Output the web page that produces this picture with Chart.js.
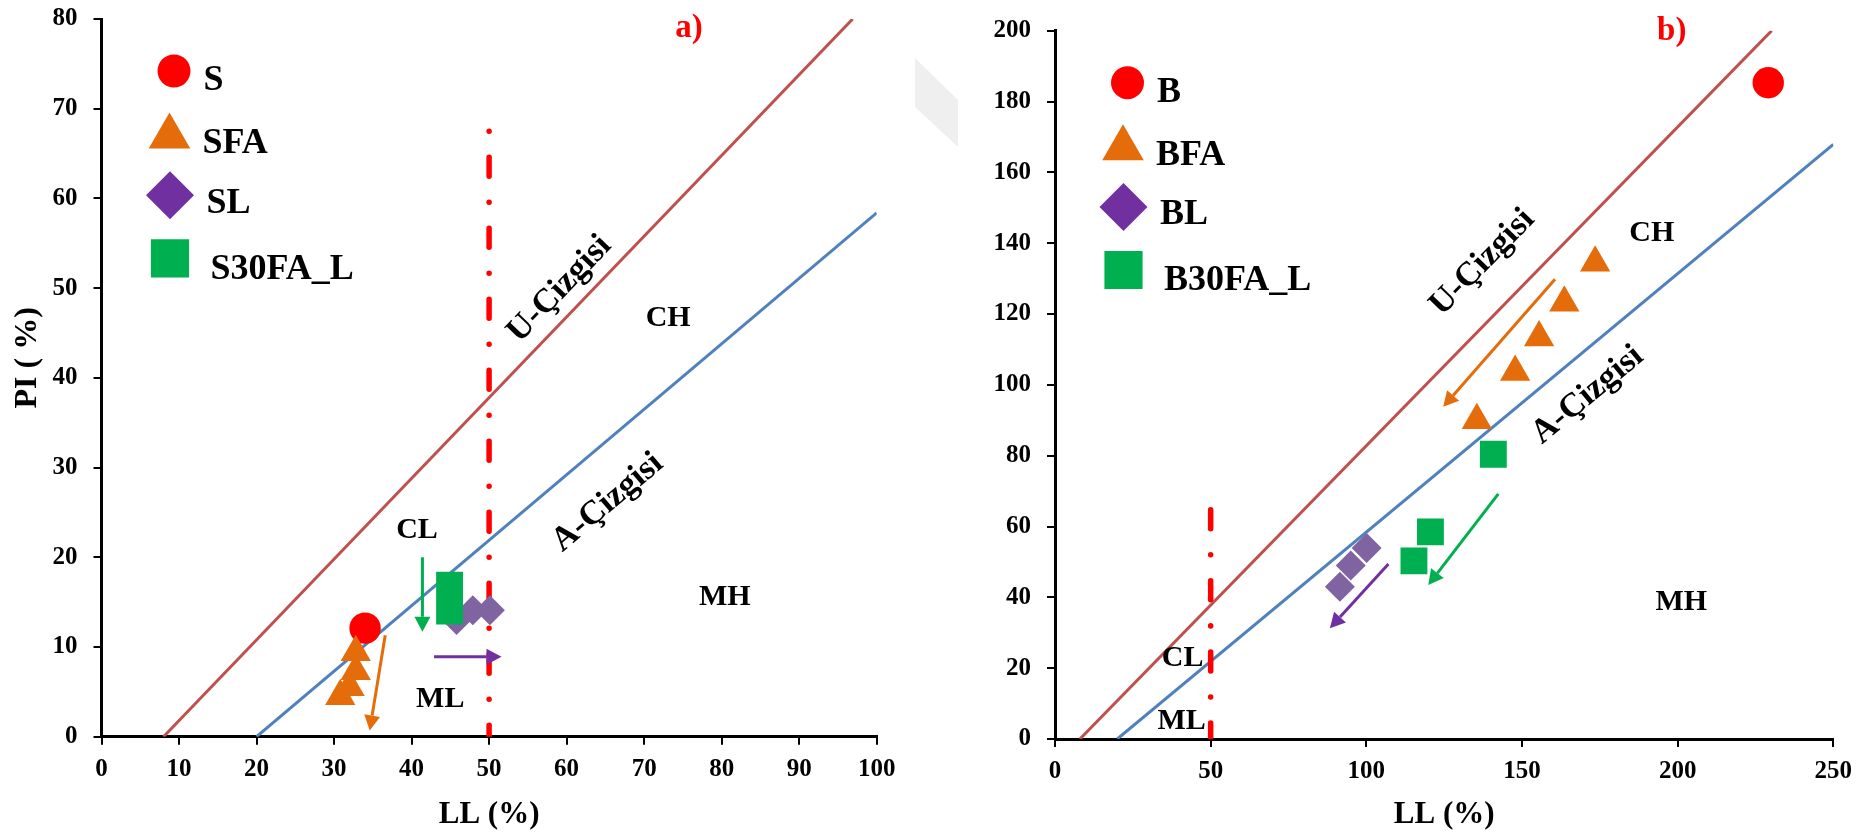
<!DOCTYPE html>
<html>
<head>
<meta charset="utf-8">
<script src="https://cdn.jsdelivr.net/npm/chart.js@4.4.1/dist/chart.umd.min.js"></script>
<style>
    html, body { margin: 0; padding: 0; background: #fff; }
    #page { position: relative; width: 1875px; height: 838px; overflow: hidden; background: #fff; }
    #page canvas { position: absolute; top: 0; }
    #chartA { left: 0; }
    #chartB { left: 990px; }
    .smudge {
        position: absolute; left: 915px; top: 58px; width: 43px; height: 90px;
        background: #efefef;
        clip-path: polygon(0px 0px, 43px 42px, 43px 89px, 0px 49px);
    }
</style>
</head>
<body>
<div id="page">
    <canvas id="chartA" width="990" height="838"></canvas>
    <div class="smudge"></div>
    <canvas id="chartB" width="885" height="838"></canvas>
</div>
<script>
// a) soil S
const sLL = [34.0];
const sPI = [12.1];
const sfaLL = [30.8, 32.0, 32.8, 32.8];
const sfaPI = [4.5, 5.5, 7.3, 9.4];
const slLL = [45.8, 47.9, 50.1];
const slPI = [13.0, 14.1, 14.1];
const s30LL = [44.9, 44.9];
const s30PI = [16.9, 14.0];

// b) soil B
const bLL = [229.1];
const bPI = [185.3];
const bfaLL = [135.5, 147.8, 155.5, 163.6, 173.5];
const bfaPI = [90.0, 103.6, 113.4, 123.2, 134.5];
const blLL = [91.5, 95.0, 100.1];
const blPI = [43.0, 49.0, 53.9];
const b30LL = [115.3, 120.6, 140.8];
const b30PI = [50.3, 58.5, 80.4];

// plasticity chart lines, [LL, PI] end points
const uLineA = [[8, 0], [96.9, 80]];
const aLineA = [[20, 0], [100, 58.4]];
const llLimitA = [[50, 67.5], [50, 0]];
const uLineB = [[8, 0], [230.2, 200]];
const aLineB = [[20, 0], [250, 167.9]];
const llLimitB = [[50, 64.7], [50, 0]];

// arrows [fromLL, fromPI, toLL, toPI] : FA, 30FA_L, L
const arrowsA = [[36.6, 11.3, 34.6, 0.7], [41.4, 20.0, 41.4, 11.7], [42.9, 8.9, 51.6, 8.9]];
const arrowsB = [[160.6, 129.8, 124.7, 93.8], [142.4, 69.2, 119.9, 43.5], [107.1, 49.4, 88.3, 31.3]];

// zone labels [text, LL, PI]
const zonesA = [["CH", 73.1, 46.6], ["MH", 80.4, 15.5], ["CL", 40.7, 23.0], ["ML", 43.7, 4.15]];
const zonesB = [["CH", 191.7, 142.8], ["MH", 201.2, 38.5], ["CL", 41.0, 22.8], ["ML", 40.7, 4.9]];

// line names [text, LL, PI]
const lineNamesA = [["U-Çizgisi", 59.1, 49.9], ["A-Çizgisi", 65.3, 26.1]];
const lineNamesB = [["U-Çizgisi", 137.3, 134.6], ["A-Çizgisi", 171.1, 97.1]];

const tagA = ["a)", 75.8, 79.0];
const tagB = ["b)", 198.1, 199.7];

const FONT = "'Liberation Serif', 'Times New Roman', serif";
const RED = "#ff0000";
const ORANGE = "#e46c0a";
const PURPLE = "#7030a0";
const PURPLE_LIGHT = "#8064a2";
const GREEN = "#00b050";
const U_COLOR = "#c0504d";
const A_COLOR = "#4f81bd";
const ARROW_COLORS = [ORANGE, GREEN, PURPLE];

Chart.defaults.font.family = FONT;

function points(xs, ys) {
    return xs.map((x, i) => ({ x: x, y: ys[i] }));
}

function pairs(arr) {
    return arr.map(p => ({ x: p[0], y: p[1] }));
}

function drawArrow(ctx, x1, y1, x2, y2, color) {
    const ang = Math.atan2(y2 - y1, x2 - x1);
    const head = 15, half = 8;
    const c = Math.cos(ang), s = Math.sin(ang);
    ctx.save();
    ctx.strokeStyle = color;
    ctx.fillStyle = color;
    ctx.lineWidth = 3;
    ctx.beginPath();
    ctx.moveTo(x1, y1);
    ctx.lineTo(x2 - head * c, y2 - head * s);
    ctx.stroke();
    ctx.beginPath();
    ctx.moveTo(x2, y2);
    ctx.lineTo(x2 - head * c + half * s, y2 - head * s - half * c);
    ctx.lineTo(x2 - head * c - half * s, y2 - head * s + half * c);
    ctx.closePath();
    ctx.fill();
    ctx.restore();
}

function drawMarker(ctx, style, r, x, y, color) {
    ctx.save();
    ctx.fillStyle = color;
    if (Chart.helpers && Chart.helpers.drawPoint) {
        Chart.helpers.drawPoint(ctx, { pointStyle: style, radius: r, rotation: 0, borderWidth: 0 }, x, y);
    } else {
        ctx.beginPath();
        ctx.arc(x, y, r, 0, Math.PI * 2);
        ctx.fill();
    }
    ctx.restore();
}

// arrows, text labels and the inside legend
const decorPlugin = {
    id: "decor",
    afterDatasetsDraw(chart, args, opts) {
        const ctx = chart.ctx;
        const xs = chart.scales.x;
        const ys = chart.scales.y;
        const px = v => xs.getPixelForValue(v);
        const py = v => ys.getPixelForValue(v);

        opts.arrows.forEach((a, i) => {
            drawArrow(ctx, px(a[0]), py(a[1]), px(a[2]), py(a[3]), ARROW_COLORS[i]);
        });

        ctx.save();
        ctx.fillStyle = "#000";
        ctx.textAlign = "center";
        ctx.textBaseline = "middle";
        ctx.font = "bold 30px " + FONT;
        opts.zones.forEach(z => ctx.fillText(z[0], px(z[1]), py(z[2])));

        // line names follow the slope of their line
        opts.lineNames.forEach((n, i) => {
            const line = chart.data.datasets[opts.lineDatasets[i]].data;
            const ang = Math.atan2(py(line[1].y) - py(line[0].y), px(line[1].x) - px(line[0].x));
            ctx.save();
            ctx.translate(px(n[1]), py(n[2]));
            ctx.rotate(ang);
            ctx.font = "bold 34px " + FONT;
            ctx.fillText(n[0], 0, 0);
            ctx.restore();
        });

        ctx.fillStyle = RED;
        ctx.font = "bold 33px " + FONT;
        ctx.fillText(opts.tag[0], px(opts.tag[1]), py(opts.tag[2]));
        ctx.restore();

        // legend
        const area = chart.chartArea;
        const mx = [72.5, 68, 68.5, 68.5];
        const my = [52, 117.5, 176.3, 239.3];
        const tx = [102, 101, 105, 109];
        const ty = [71.3, 133.8, 193.5, 259.5];
        ctx.save();
        ctx.font = "bold 36px " + FONT;
        ctx.textAlign = "left";
        ctx.textBaseline = "alphabetic";
        opts.legend.forEach((item, i) => {
            const ds = chart.data.datasets[item.ds];
            drawMarker(ctx, ds.pointStyle, item.r, area.left + mx[i], area.top + my[i], item.color);
            ctx.fillStyle = "#000";
            ctx.fillText(ds.label, area.left + tx[i], area.top + ty[i]);
        });
        ctx.restore();
    }
};

function makeScales(xMax, xStep, yMax, yStep, yWidth, xHeight, showYTitle) {
    const tickFont = { family: FONT, size: 25, weight: "bold" };
    const grid = { drawOnChartArea: false, color: "#000", lineWidth: 2, tickLength: 8 };
    const border = { color: "#000", width: 3 };
    return {
        x: {
            type: "linear",
            min: 0,
            max: xMax,
            ticks: { stepSize: xStep, color: "#000", font: tickFont, padding: 10, maxRotation: 0 },
            grid: grid,
            border: border,
            title: {
                display: true,
                text: "LL (%)",
                color: "#000",
                font: { family: FONT, size: 31, weight: "bold" },
                padding: { top: 0, bottom: 4 }
            },
            afterFit: s => {
                s.height = xHeight;
                s.paddingLeft = 0;
                s.paddingRight = 0;
            }
        },
        y: {
            type: "linear",
            min: 0,
            max: yMax,
            ticks: { stepSize: yStep, color: "#000", font: tickFont, padding: 16 },
            grid: grid,
            border: border,
            title: {
                display: showYTitle,
                text: "     PI ( %)",
                color: "#000",
                font: { family: FONT, size: 32, weight: "bold" },
                padding: { top: 9, bottom: 0 }
            },
            afterFit: s => {
                s.width = yWidth;
                s.paddingTop = 0;
                s.paddingBottom = 0;
            }
        }
    };
}

function makeDatasets(names, soil, fa, lime, mix, uLine, aLine, limit, dashOffset) {
    return [
        { label: names[3], data: mix, pointStyle: "rect", pointRadius: 19, backgroundColor: GREEN, borderWidth: 0, order: 1 },
        { label: names[2], data: lime, pointStyle: "rectRot", pointRadius: 15, backgroundColor: PURPLE_LIGHT, borderWidth: 0, order: 2 },
        { label: names[1], data: fa, pointStyle: "triangle", pointRadius: 17.5, backgroundColor: ORANGE, borderWidth: 0, order: 3 },
        { label: names[0], data: soil, pointStyle: "circle", pointRadius: 15.7, backgroundColor: RED, borderWidth: 0, order: 4 },
        { label: "LL=50", data: pairs(limit), showLine: true, pointRadius: 0, borderColor: RED, borderWidth: 5.5,
          borderDash: [19, 26, 0.01, 26], borderDashOffset: dashOffset, borderCapStyle: "round", order: 5 },
        { label: "U", data: pairs(uLine), showLine: true, pointRadius: 0, borderColor: U_COLOR, borderWidth: 3, order: 6 },
        { label: "A", data: pairs(aLine), showLine: true, pointRadius: 0, borderColor: A_COLOR, borderWidth: 3, order: 6 }
    ];
}

function legendItems() {
    return [
        { ds: 3, r: 16.5, color: RED },
        { ds: 2, r: 24, color: ORANGE },
        { ds: 1, r: 24, color: PURPLE },
        { ds: 0, r: 27, color: GREEN }
    ];
}

new Chart(document.getElementById("chartA").getContext("2d"), {
    type: "scatter",
    data: {
        datasets: makeDatasets(["S", "SFA", "SL", "S30FA_L"],
            points(sLL, sPI), points(sfaLL, sfaPI), points(slLL, slPI), points(s30LL, s30PI),
            uLineA, aLineA, llLimitA, 45)
    },
    options: {
        responsive: false,
        animation: false,
        events: [],
        layout: { padding: { left: 0, top: 15.7, right: 113.3, bottom: 0 } },
        scales: makeScales(100, 10, 80, 10, 101.5, 101.3, true),
        plugins: {
            legend: { display: false },
            tooltip: { enabled: false },
            decor: {
                arrows: arrowsA,
                zones: zonesA,
                lineNames: lineNamesA,
                lineDatasets: [5, 6],
                tag: tagA,
                legend: legendItems()
            }
        }
    },
    plugins: [decorPlugin]
});

new Chart(document.getElementById("chartB").getContext("2d"), {
    type: "scatter",
    data: {
        datasets: makeDatasets(["B", "BFA", "BL", "B30FA_L"],
            points(bLL, bPI), points(bfaLL, bfaPI), points(blLL, blPI), points(b30LL, b30PI),
            uLineB, aLineB, llLimitB, 0)
    },
    options: {
        responsive: false,
        animation: false,
        events: [],
        layout: { padding: { left: 0, top: 30.7, right: 41.7, bottom: 0 } },
        scales: makeScales(250, 50, 200, 20, 65, 99, false),
        plugins: {
            legend: { display: false },
            tooltip: { enabled: false },
            decor: {
                arrows: arrowsB,
                zones: zonesB,
                lineNames: lineNamesB,
                lineDatasets: [5, 6],
                tag: tagB,
                legend: legendItems()
            }
        }
    },
    plugins: [decorPlugin]
});
</script>
</body>
</html>
